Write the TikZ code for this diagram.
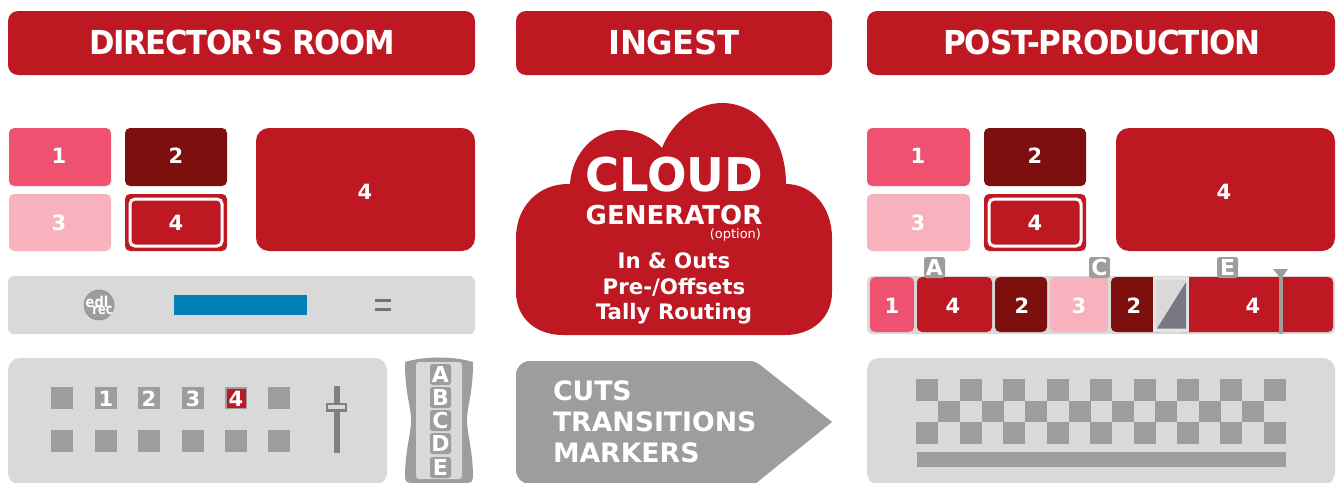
\documentclass[tikz,border=0pt]{standalone}
\usepackage{fontspec}
\setmainfont{DejaVu Sans}
\newfontfamily\hdf{DejaVu Sans}
\definecolor{cred}{HTML}{BE1823}
\definecolor{cpink}{HTML}{EE5270}
\definecolor{cdark}{HTML}{7D100E}
\definecolor{clight}{HTML}{F7B2BD}
\definecolor{cpanel}{HTML}{D9D9D9}
\definecolor{cmid}{HTML}{9D9D9C}
\definecolor{cblue}{HTML}{0080B7}
\definecolor{cslate}{HTML}{787882}
\newcommand{\fs}[1]{\fontsize{#1}{#1}\selectfont}
\newcommand{\boxr}[7]{\node[box,fill=#2,rounded corners=#3,minimum width=#6-#4,minimum height=#7-#5,anchor=north west] (#1) at (#4,#5) {};}
\newcommand{\txt}[5]{\node[lbl,font=\bfseries\fs{#2}] (#1) at (#3,#4) {#5};}
\newcommand{\hdr}[5]{\node[lbl,font=\hdf\bfseries\fs{33}\addfontfeatures{LetterSpace=#3}] (#1) at (#2,54) {\scalebox{#4}[1]{#5}};}
\tikzset{box/.style={inner sep=0,outer sep=0,draw=none},
 lbl/.style={inner sep=0,outer sep=0,anchor=base,text=white}}
\begin{document}
\begin{tikzpicture}[x=1pt,y=-1pt]
\useasboundingbox (0,0) rectangle (1338,482);
\clip (0,0) rectangle (1338,482);
% headers
\boxr{h1}{cred}{10pt}{8}{11}{475}{75}
\boxr{h2}{cred}{10pt}{516}{11}{832}{75}
\boxr{h3}{cred}{10pt}{867}{11}{1335}{75}
\hdr{th1}{242}{-4.5}{.93}{DIRECTOR'S ROOM}
\hdr{th2}{674}{-1}{.98}{INGEST}
\hdr{th3}{1102}{-3.5}{.94}{POST-PRODUCTION}
% left monitors
\boxr{m1}{cpink}{5pt}{9}{128}{111}{186}
\boxr{m2}{cdark}{5pt}{125}{128}{227}{186}
\boxr{m3}{clight}{5pt}{9}{194}{111}{251}
\boxr{m4}{cred}{5pt}{125}{194}{227}{251}
\node[box,draw=white,line width=3pt,rounded corners=5pt,minimum width=92,minimum height=47,anchor=north west] (m4i) at (130,199) {};
\boxr{m5}{cred}{13pt}{256}{128}{475}{251}
\txt{tm1}{21}{59}{163}{1}
\txt{tm2}{21}{176}{163}{2}
\txt{tm3}{21}{59}{230}{3}
\txt{tm4}{21}{176}{230}{4}
\txt{tm5}{21}{365}{199}{4}
% right monitors
\boxr{n1}{cpink}{5pt}{867}{128}{970}{186}
\boxr{n2}{cdark}{5pt}{984}{128}{1086}{186}
\boxr{n3}{clight}{5pt}{867}{194}{970}{251}
\boxr{n4}{cred}{5pt}{984}{194}{1086}{251}
\node[box,draw=white,line width=3pt,rounded corners=5pt,minimum width=92,minimum height=47,anchor=north west] (n4i) at (989,199) {};
\boxr{n5}{cred}{13pt}{1116}{128}{1335}{251}
\txt{tn1}{21}{918}{163}{1}
\txt{tn2}{21}{1035}{163}{2}
\txt{tn3}{21}{918}{230}{3}
\txt{tn4}{21}{1035}{230}{4}
\txt{tn5}{21}{1224}{199}{4}
% recorder
\boxr{rack}{cpanel}{6pt}{8}{276}{475}{334}
\node[circle,fill=cmid,draw=black!45,line width=.6pt,minimum size=30,inner sep=0] (logo) at (99,305) {};
\node[lbl,font=\bfseries\fs{13}] (logo1) at (97,307) {\scalebox{1}[1.15]{edl}};
\node[lbl,font=\bfseries\fs{12}] (logo2) at (102.5,314.5) {\scalebox{.95}[1.25]{rec}};
\boxr{blue}{cblue}{0pt}{174}{295}{307}{315}
\boxr{eq1}{black!55}{0pt}{375}{299}{391}{302}
\boxr{eq2}{black!55}{0pt}{375}{308}{391}{311}
% console
\boxr{cons}{cpanel}{12pt}{8}{358}{387}{485}
\foreach \i/\x in {1/51,2/95,3/138,4/182,5/225,6/268}{
  \node[box,fill=cmid,minimum size=22,anchor=north west] (ka\i) at (\x,387) {};
  \node[box,fill=cmid,minimum size=22,anchor=north west] (kb\i) at (\x,430) {};
}
\node[box,fill=cred,minimum size=19,anchor=north west] (k4r) at (226.5,388.5) {};
\txt{tk1}{21}{106}{406}{1}
\txt{tk2}{21}{149}{406}{2}
\txt{tk3}{21}{193}{406}{3}
\txt{tk4}{21}{236}{406}{4}
\boxr{rail}{black!50}{0pt}{334}{386}{340}{453}
\boxr{knob}{black!50}{0pt}{326}{403}{347}{412}
\boxr{knobi}{cpanel}{0pt}{328}{405}{345}{408.5}
% remote
\fill[cmid] (405,362) .. controls (425,356) and (453,356) .. (473,362)
  .. controls (473,395) and (467,405) .. (467,420)
  .. controls (467,435) and (473,450) .. (473,478)
  .. controls (473,481) and (471,483) .. (468,483)
  -- (410,483) .. controls (407,483) and (405,481) .. (405,478)
  .. controls (405,450) and (411,435) .. (411,420)
  .. controls (411,405) and (405,395) .. (405,362) -- cycle;
\boxr{rem}{cpanel}{3pt}{416}{362}{462}{479}
\foreach \n/\y/\c in {a/364/A,b/387/B,c/410/C,d/433/D,e/457/E}{
  \node[box,fill=cmid,rounded corners=2.5pt,minimum size=21,anchor=north west] (r\n) at (430,\y) {};
  \node[lbl,font=\bfseries\fs{22}] (rt\n) at (440.5,\y+18.8) {\c};
}
% cloud
\fill[cred] (516,238) .. controls (516,207) and (538,184) .. (568,184) -- (570,184)
  .. controls (572,152) and (596,130) .. (620,130)
  .. controls (638,130) and (652,137) .. (662,148)
  .. controls (673,120) and (698,103) .. (722,103)
  .. controls (760,103) and (786,140) .. (786,184)
  .. controls (812,184) and (832,207) .. (832,238)
  -- (832,292) .. controls (832,318) and (812,335) .. (785,335)
  -- (563,335) .. controls (536,335) and (516,318) .. (516,292) -- cycle;
\txt{c1}{46.5}{674}{191.5}{CLOUD}
\txt{c2}{26}{674}{224}{GENERATOR}
\node[lbl,anchor=base east,font=\fs{13}] (c3) at (761,238) {(option)};
\txt{c4}{21.3}{674}{268}{In \& Outs}
\txt{c5}{21.3}{674}{294}{Pre-/Offsets}
\txt{c6}{21.3}{674}{319}{Tally Routing}
% arrow
\fill[cmid] (749,361) .. controls (753,361) and (756,362) .. (759,364) -- (832,422) -- (755,484) -- (530,484)
  .. controls (522,484) and (516,478) .. (516,470)
  -- (516,375) .. controls (516,367) and (522,361) .. (530,361) -- cycle;
\node[lbl,anchor=base west,font=\bfseries\fs{26.7}] (a1) at (553,400) {CUTS};
\node[lbl,anchor=base west,font=\bfseries\fs{26.7}] (a2) at (553,431) {TRANSITIONS};
\node[lbl,anchor=base west,font=\bfseries\fs{26.7}] (a3) at (553,462.5) {MARKERS};
% timeline
\boxr{tl}{cpanel}{5pt}{867}{276}{1335}{334}
\boxr{s1}{cpink}{5pt}{870}{277}{914}{332}
\boxr{s2}{cred}{5pt}{917}{277}{992}{332}
\boxr{s3}{cdark}{5pt}{995}{277}{1047}{332}
\boxr{s4}{clight}{5pt}{1050}{277}{1108}{332}
\boxr{s5}{cdark}{5pt}{1111}{277}{1165}{332}
\boxr{s6}{cred}{5pt}{1175}{277}{1333}{332}
\boxr{tw}{white!90!black}{0pt}{1153}{277}{1189}{332}
\fill[cpanel] (1156,280) -- (1186,280) -- (1156,330) -- cycle;
\fill[cslate] (1186,282) -- (1186,328.5) -- (1157,328.5) -- cycle;
\txt{t1}{21}{892}{313}{1}
\txt{t2}{21}{953}{313}{4}
\txt{t3}{21}{1022}{313}{2}
\txt{t4}{21}{1079}{313}{3}
\txt{t5}{21}{1134}{313}{2}
\txt{t6}{21}{1253}{313}{4}
\foreach \n/\x/\c in {a/924/A,c/1089/C,e/1217/E}{
  \node[box,fill=cmid,rounded corners=2.5pt,minimum size=21,anchor=north west] (f\n) at (\x,257) {};
  \node[lbl,font=\bfseries\fs{22}] (ft\n) at (\x+10.5,275.8) {\c};
}
\boxr{ph}{cmid}{0pt}{1279}{276}{1283}{334}
\fill[cmid] (1273,269) -- (1288,269) -- (1281,279) -- cycle;
% post panel
\boxr{post}{cpanel}{12pt}{867}{358}{1335}{485}
\foreach \x in {916,960,1003,1047,1090,1134,1177,1220,1264}{
  \fill[cmid] (\x,379) rectangle ++(22,22);
  \fill[cmid] (\x,422) rectangle ++(22,22);
}
\foreach \x in {938,982,1025,1069,1112,1155,1199,1242}{
  \fill[cmid] (\x,400.5) rectangle ++(22,21.5);
}
\boxr{bar}{cmid}{0pt}{917}{452}{1286}{467}
\end{tikzpicture}
\end{document}
